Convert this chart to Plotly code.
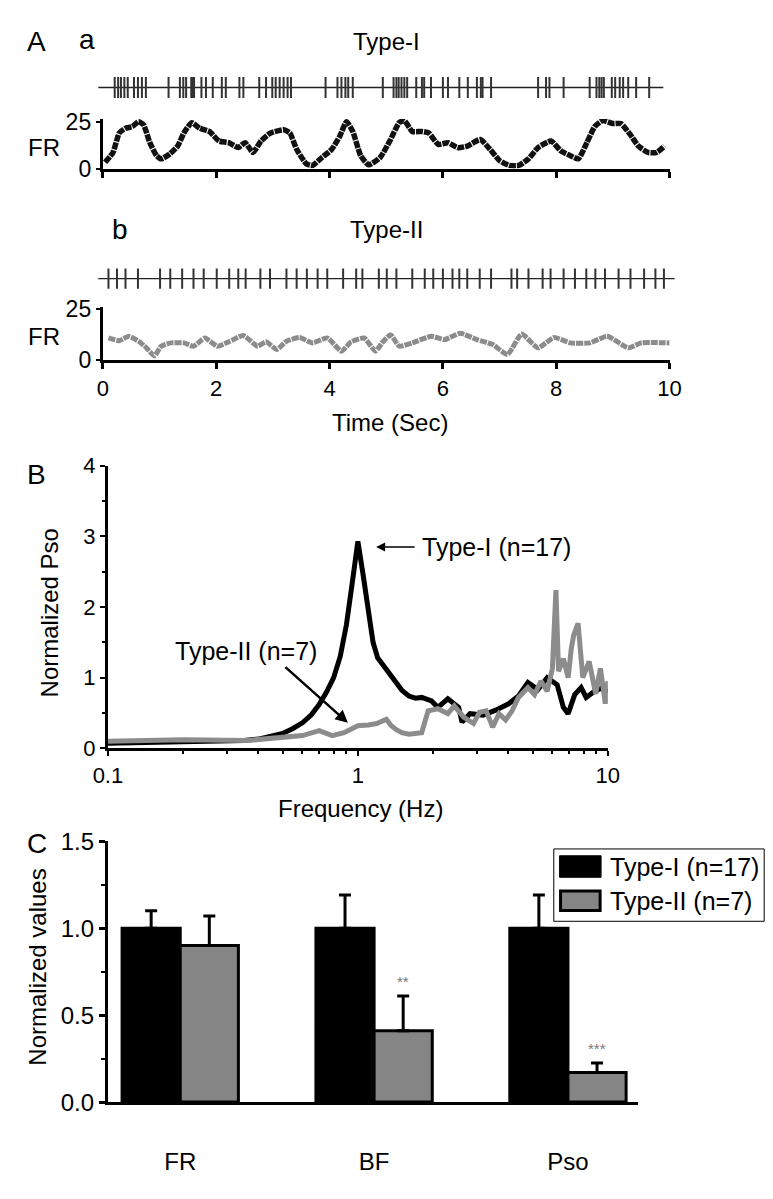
import plotly.graph_objects as go

W, H = 773, 1199
FONT = "Arial, Liberation Sans, sans-serif"

# ---------------- data ----------------
# Panel A: spike times (s)
spikes_type1 = [0.21, 0.27, 0.32, 0.38, 0.44, 0.55, 0.62, 0.69, 0.76, 1.16, 1.36, 1.42, 1.47,
                1.56, 1.59, 1.61, 1.74, 1.82, 1.94, 2.10, 2.17, 2.41, 2.48, 2.76, 2.88, 2.99,
                3.05, 3.12, 3.19, 3.26, 3.32, 3.93, 4.14, 4.21, 4.28, 4.33, 4.41, 4.94, 5.13,
                5.18, 5.22, 5.27, 5.32, 5.37, 5.53, 5.63, 5.67, 5.79, 6.00, 6.09, 6.29, 6.44,
                6.60, 6.67, 6.70, 6.85, 7.68, 7.82, 7.88, 8.13, 8.59, 8.71, 8.76, 8.80, 8.84,
                8.98, 9.04, 9.12, 9.18, 9.27, 9.41, 9.64]
spikes_type2 = [0.10, 0.25, 0.40, 0.62, 1.01, 1.19, 1.40, 1.60, 1.78, 2.01, 2.23, 2.39, 2.52,
                2.78, 2.95, 3.24, 3.42, 3.60, 3.79, 3.96, 4.24, 4.47, 4.58, 4.87, 5.01, 5.18,
                5.46, 5.68, 5.83, 6.00, 6.17, 6.29, 6.43, 6.65, 6.85, 7.21, 7.31, 7.51, 7.76,
                7.90, 8.13, 8.33, 8.53, 8.69, 8.86, 9.10, 9.31, 9.55, 9.75, 9.90]
raster1_span = [-0.08, 9.89]
raster2_span = [-0.08, 10.09]

# Panel A: firing rate (spikes/s)
fr1_t = [0.04, 0.18, 0.29, 0.40, 0.52, 0.63, 0.72, 0.83, 0.95, 1.03, 1.18, 1.32, 1.43, 1.57,
         1.71, 1.88, 2.05, 2.22, 2.39, 2.51, 2.65, 2.79, 2.96, 3.19, 3.30, 3.42, 3.59, 3.70,
         3.87, 4.04, 4.18, 4.30, 4.41, 4.55, 4.69, 4.89, 5.06, 5.23, 5.32, 5.46, 5.63, 5.75,
         5.92, 6.09, 6.26, 6.43, 6.66, 6.83, 7.00, 7.17, 7.34, 7.51, 7.68, 7.91, 8.08, 8.25,
         8.39, 8.54, 8.68, 8.82, 9.00, 9.14, 9.31, 9.45, 9.62, 9.77, 9.91]
fr1_v = [3.4, 8.6, 19.0, 21.5, 22.4, 25.0, 23.3, 13.8, 6.9, 5.2, 7.8, 12.0, 19.0, 24.5,
         21.5, 19.8, 14.7, 13.8, 11.2, 13.8, 8.6, 14.7, 19.0, 20.7, 19.0, 10.3, 2.6, 1.7,
         6.0, 10.3, 17.2, 25.0, 19.8, 6.9, 2.0, 5.8, 14.5, 24.5, 25.6, 19.8, 19.8, 19.0,
         12.9, 13.8, 11.2, 12.0, 15.5, 10.3, 4.3, 1.7, 1.7, 5.2, 11.2, 14.7, 9.5, 6.9,
         5.2, 13.8, 22.4, 25.6, 24.0, 24.0, 18.0, 12.0, 8.6, 8.6, 12.0]
fr2_t = [0.10, 0.29, 0.46, 0.63, 0.77, 0.91, 1.03, 1.20, 1.43, 1.60, 1.80, 2.02, 2.22, 2.48,
         2.73, 2.88, 3.07, 3.24, 3.47, 3.70, 3.96, 4.21, 4.38, 4.61, 4.81, 4.95, 5.08, 5.23,
         5.46, 5.80, 6.03, 6.31, 6.60, 6.88, 7.14, 7.39, 7.68, 7.96, 8.25, 8.59, 8.90, 9.27,
         9.50, 10.0]
fr2_v = [10.8, 9.5, 11.6, 9.2, 6.0, 2.1, 6.8, 8.4, 8.4, 6.8, 10.8, 6.8, 8.9, 12.0,
         6.8, 8.9, 5.2, 9.2, 11.0, 8.4, 10.8, 4.4, 8.9, 10.8, 4.4, 9.2, 12.3, 6.8,
         8.4, 11.6, 10.0, 13.1, 10.0, 7.6, 2.8, 12.7, 6.0, 11.0, 8.4, 8.4, 11.6, 6.0,
         8.4, 8.4]

# Panel B: normalized power spectra
psd_f1 = [0.1, 0.15, 0.2, 0.3, 0.35, 0.4, 0.45, 0.5, 0.55, 0.6, 0.65, 0.7, 0.75, 0.8, 0.85,
          0.9, 0.95, 1.0, 1.05, 1.1, 1.15, 1.2, 1.3, 1.4, 1.5, 1.6, 1.7, 1.8, 1.97, 2.09,
          2.29, 2.53, 2.61, 2.81, 3.17, 3.56, 4.01, 4.39, 4.79, 5.25, 5.72, 6.27, 6.64,
          6.94, 7.37, 7.82, 8.19, 8.8, 9.4, 10.0]
psd_p1 = [0.07, 0.08, 0.09, 0.10, 0.11, 0.13, 0.17, 0.21, 0.28, 0.36, 0.47, 0.62, 0.80, 1.00,
          1.30, 1.75, 2.35, 2.93, 2.45, 1.95, 1.50, 1.28, 1.12, 0.95, 0.82, 0.74, 0.71, 0.72,
          0.67, 0.58, 0.70, 0.58, 0.37, 0.49, 0.47, 0.54, 0.63, 0.74, 0.93, 0.83, 1.00, 0.90,
          0.58, 0.49, 0.76, 0.86, 0.72, 0.80, 0.85, 0.80]
psd_f2 = [0.1, 0.2, 0.36, 0.52, 0.6, 0.7, 0.79, 0.88, 1.0, 1.1, 1.19, 1.3, 1.36, 1.43, 1.5,
          1.6, 1.7, 1.8, 1.91, 2.09, 2.29, 2.43, 2.65, 2.9, 3.07, 3.26, 3.46, 3.67, 3.9,
          4.14, 4.39, 4.79, 5.09, 5.4, 5.72, 6.0, 6.2, 6.35, 6.64, 6.94, 7.14, 7.3, 7.6,
          7.94, 8.42, 8.94, 9.34, 9.77, 10.0]
psd_p2 = [0.10, 0.12, 0.11, 0.15, 0.18, 0.25, 0.18, 0.22, 0.32, 0.33, 0.35, 0.41, 0.32, 0.26, 0.22,
          0.20, 0.21, 0.22, 0.53, 0.56, 0.49, 0.60, 0.44, 0.35, 0.51, 0.53, 0.30, 0.49, 0.40,
          0.53, 0.72, 0.86, 0.76, 0.95, 0.81, 1.13, 2.24, 1.09, 1.27, 1.00, 1.41, 1.60, 1.77,
          1.00, 1.23, 0.77, 1.13, 0.63, 0.95]

# Panel C: normalized values (mean, SEM)
categories = ["FR", "BF", "Pso"]
type1_mean = [1.00, 1.00, 1.00]
type1_sem = [0.10, 0.19, 0.19]
type2_mean = [0.90, 0.41, 0.17]
type2_sem = [0.17, 0.20, 0.055]
sig_marks = ["", "**", "***"]
group_names = ["Type-I (n=17)", "Type-II (n=7)"]

# ---------------- helpers ----------------
def fx(px):
    return px / W

def fy(py):
    return 1 - py / H

BLACK = "#000000"
GRAY = "#8c8c8c"
BARGRAY = "#858585"

def raster_xy(times, h=0.95):
    xs, ys = [], []
    for t in times:
        xs += [t, t, None]
        ys += [-h, h, None]
    return xs, ys

fig = go.Figure()

# ---- Panel A raster a ----
rx, ry = raster_xy(spikes_type1)
fig.add_trace(go.Scatter(x=raster1_span, y=[0, 0], mode="lines",
                         line=dict(color="#222", width=1.3), xaxis="x", yaxis="y"))
fig.add_trace(go.Scatter(x=rx, y=ry, mode="lines", line=dict(color="#333", width=2),
                         xaxis="x", yaxis="y"))
# ---- Panel A FR a ----
fig.add_trace(go.Scatter(x=fr1_t, y=fr1_v, mode="lines",
                         line=dict(color="#111", width=5.5, dash="7px,1px", shape="spline", smoothing=0.5),
                         xaxis="x2", yaxis="y2"))
# ---- Panel A raster b ----
rx2, ry2 = raster_xy(spikes_type2)
fig.add_trace(go.Scatter(x=raster2_span, y=[0, 0], mode="lines",
                         line=dict(color="#222", width=1.3), xaxis="x3", yaxis="y3"))
fig.add_trace(go.Scatter(x=rx2, y=ry2, mode="lines", line=dict(color="#333", width=2),
                         xaxis="x3", yaxis="y3"))
# ---- Panel A FR b ----
fig.add_trace(go.Scatter(x=fr2_t, y=fr2_v, mode="lines",
                         line=dict(color=GRAY, width=5, dash="7px,1px", shape="spline", smoothing=0.5),
                         xaxis="x4", yaxis="y4"))
# ---- Panel B ----
fig.add_trace(go.Scatter(x=psd_f1, y=psd_p1, mode="lines",
                         line=dict(color=BLACK, width=5), xaxis="x5", yaxis="y5"))
fig.add_trace(go.Scatter(x=psd_f2, y=psd_p2, mode="lines",
                         line=dict(color=GRAY, width=5), xaxis="x5", yaxis="y5"))
# ---- Panel C ----
fig.add_trace(go.Bar(x=categories, y=type1_mean, name=group_names[0],
                     marker=dict(color=BLACK, line=dict(color=BLACK, width=3)),
                     error_y=dict(type="data", symmetric=False, array=type1_sem,
                                  arrayminus=[0] * len(type1_sem), color=BLACK,
                                  thickness=3, width=6),
                     xaxis="x6", yaxis="y6"))
fig.add_trace(go.Bar(x=categories, y=type2_mean, name=group_names[1],
                     marker=dict(color=BARGRAY, line=dict(color=BLACK, width=3)),
                     error_y=dict(type="data", symmetric=False, array=type2_sem,
                                  arrayminus=[0] * len(type2_sem), color=BLACK,
                                  thickness=3, width=6),
                     xaxis="x6", yaxis="y6"))

# ---------------- axes ----------------
px_per_sec = (670 - 82.7) / 10.0
rast_range = [(70 - 82.7) / px_per_sec, (680 - 82.7) / px_per_sec]
hidden = dict(visible=False, showgrid=False, zeroline=False, fixedrange=True)

axis_common = dict(showgrid=False, zeroline=False, showline=True, linecolor="black",
                   ticks="outside", tickcolor="black", fixedrange=True)

layout = dict(
    width=W, height=H,
    margin=dict(l=0, r=0, t=0, b=0, pad=0),
    paper_bgcolor="white", plot_bgcolor="white",
    showlegend=False,
    barmode="group", bargap=0.4, bargroupgap=0,
    font=dict(family=FONT, color="black"),
    xaxis=dict(domain=[fx(70), fx(680)], range=rast_range, **hidden),
    yaxis=dict(domain=[fy(80), fy(54)], range=[-1.15, 1.15], **hidden),
    xaxis2=dict(domain=[fx(82.7), fx(670)], range=[0, 10], tickvals=[0, 2, 4, 6, 8, 10],
                showticklabels=False, linewidth=3, ticklen=6, tickwidth=3,
                anchor="y2", **axis_common),
    yaxis2=dict(domain=[fy(150), fy(150 - 26.5 * 1.92)], range=[0, 26.5], tickvals=[0, 25],
                linewidth=3, ticklen=4, tickwidth=2, tickfont=dict(size=23),
                anchor="x2", **axis_common),
    xaxis3=dict(domain=[fx(70), fx(680)], range=rast_range, **hidden),
    yaxis3=dict(domain=[fy(275), fy(250)], range=[-1.15, 1.15], **hidden),
    xaxis4=dict(domain=[fx(82.7), fx(670)], range=[0, 10], tickvals=[0, 2, 4, 6, 8, 10],
                linewidth=3, ticklen=6, tickwidth=3, tickfont=dict(size=22),
                anchor="y4", **axis_common),
    yaxis4=dict(domain=[fy(346), fy(346 - 25.8 * 2.108)], range=[0, 25.8], tickvals=[0, 25],
                linewidth=3, ticklen=4, tickwidth=2, tickfont=dict(size=23),
                anchor="x4", **axis_common),
    xaxis5=dict(type="log", domain=[fx(88), fx(606)], range=[-1, 1], tickvals=[0.1, 1, 10],
                ticktext=["0.1", "1", "10"], linewidth=3, ticklen=5, tickwidth=2,
                tickfont=dict(size=22),
                minor=dict(tickvals=[m * d for d in (0.1, 1) for m in range(2, 10)],
                           ticks="outside", ticklen=3, tickwidth=2, tickcolor="black"),
                anchor="y5", **axis_common),
    yaxis5=dict(domain=[fy(743), fy(454)], range=[0, 4], tickvals=[0, 1, 2, 3, 4],
                linewidth=3, ticklen=5, tickwidth=2, tickfont=dict(size=22),
                minor=dict(dtick=0.5, ticks="outside", ticklen=3, tickwidth=2, tickcolor="black"),
                anchor="x5", **axis_common),
    xaxis6=dict(domain=[fx(88), fx(637)], range=[-0.373, 2.36], type="category",
                linewidth=3, ticks="", tickfont=dict(size=24), ticklabelstandoff=36,
                showgrid=False, zeroline=False, showline=True, linecolor="black",
                fixedrange=True, anchor="y6"),
    yaxis6=dict(domain=[fy(1105), fy(838)], range=[0, 1.5], tickvals=[0, 0.5, 1.0, 1.5],
                tickformat=".1f", linewidth=3, ticklen=6, tickwidth=3, tickfont=dict(size=24),
                minor=dict(dtick=0.25, ticks="outside", ticklen=4, tickwidth=2, tickcolor="black"),
                anchor="x6", **axis_common),
)
fig.update_layout(**layout)

# ---------------- text annotations ----------------
def ptext(text, x, y, size, xanchor="center", angle=0, color="black"):
    return dict(text=text, x=fx(x), y=fy(y), xref="paper", yref="paper",
                xanchor=xanchor, yanchor="middle", showarrow=False, textangle=angle,
                font=dict(size=size, family=FONT, color=color))

annotations = [
    ptext("A", 14, 20, 28),
    ptext("a", 66, 18, 28),
    ptext("Type-I", 377, 20, 24),
    ptext("FR", 22, 128, 24),
    ptext("b", 100, 212, 28),
    ptext("Type-II", 377, 212, 24),
    ptext("FR", 22, 322, 24),
    ptext("Time (Sec)", 380, 410, 24),
    ptext("B", 14, 463, 28),
    ptext("Normalized Pso", 27, 605, 24, angle=-90),
    ptext("Frequency (Hz)", 350, 805, 24),
    ptext("C", 15, 840, 28),
    ptext("Normalized values", 15, 967, 24, angle=-90),
]

# Panel B arrows and labels (x in log10 units on the log axis)
annotations.append(dict(text="", x=0.073, y=2.85, xref="x5", yref="y5",
                        showarrow=True, arrowhead=2, arrowsize=1.2, arrowwidth=1.5,
                        arrowcolor="black", ax=40, ay=0))
annotations.append(dict(text="Type-I (n=17)", x=fx(411), y=fy(537), xref="paper", yref="paper",
                        xanchor="left", yanchor="middle", showarrow=False,
                        font=dict(size=25, family=FONT)))
annotations.append(dict(text="", x=-0.04, y=0.36, xref="x5", yref="y5",
                        showarrow=True, arrowhead=2, arrowsize=1, arrowwidth=2.5,
                        arrowcolor="black", ax=-64, ay=-57))
annotations.append(dict(text="Type-II (n=7)", x=fx(155), y=fy(643), xref="paper", yref="paper",
                        xanchor="left", yanchor="middle", showarrow=False,
                        font=dict(size=25, family=FONT)))

# Panel C significance marks over Type-II bars
for i, (m, v, e) in enumerate(zip(sig_marks, type2_mean, type2_sem)):
    if m:
        annotations.append(dict(text=m, x=i + 0.15, y=v + e, xref="x6", yref="y6",
                                xanchor="center", yanchor="bottom", yshift=4, showarrow=False,
                                font=dict(size=15, family=FONT, color="#777777")))

# Panel C legend (drawn box)
shapes = [
    dict(type="rect", xref="paper", yref="paper", x0=fx(550), x1=fx(768), y0=fy(920), y1=fy(846),
         line=dict(color="black", width=1), fillcolor="white"),
    dict(type="rect", xref="paper", yref="paper", x0=fx(556), x1=fx(599), y0=fy(875), y1=fy(853),
         line=dict(color="black", width=1), fillcolor=BLACK),
    dict(type="rect", xref="paper", yref="paper", x0=fx(557), x1=fx(598), y0=fy(909), y1=fy(889),
         line=dict(color="black", width=3), fillcolor=BARGRAY),
]
annotations.append(ptext(group_names[0], 606, 864, 25, xanchor="left"))
annotations.append(ptext(group_names[1], 606, 899, 25, xanchor="left"))

fig.update_layout(annotations=annotations, shapes=shapes)
fig.write_html("out.html")
